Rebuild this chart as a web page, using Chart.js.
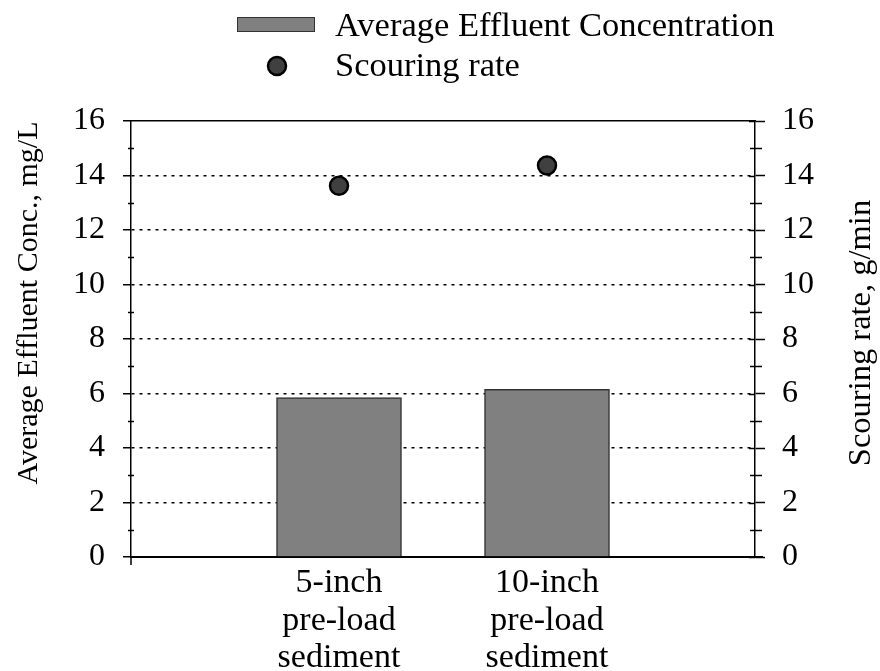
<!DOCTYPE html>
<html><head><meta charset="utf-8">
<script src="https://cdn.jsdelivr.net/npm/chart.js@4/dist/chart.umd.min.js"></script>
<style>html,body{margin:0;padding:0;background:#fff;} #wrap{width:880px;height:671px;position:relative;}</style>
</head><body><div id="wrap"><canvas id="c" width="880" height="671"></canvas></div>
<script>
const categories = ['', ['5-inch', 'pre-load', 'sediment'], ['10-inch', 'pre-load', 'sediment'], ''];
const effluentConc = [null, 5.85, 6.15, null];
const scouringRate = [null, 13.62, 14.37, null];
const seriesNames = ['Average Effluent Concentration', 'Scouring rate'];
const axisTitles = ['Average Effluent Conc., mg/L', 'Scouring rate, g/min'];
const yMin = 0, yMax = 16, yStep = 2;

const FONT = "'Liberation Serif', 'Times New Roman', serif";

const decor = {
  id: 'decor',
  afterDraw(chart) {
    const ctx = chart.ctx;
    const ca = chart.chartArea;
    const y = chart.scales.y;
    ctx.save();
    ctx.strokeStyle = '#000';
    ctx.lineWidth = 1.5;
    ctx.setLineDash([]);
    // minor ticks
    for (let v = yMin + yStep / 2; v < yMax; v += yStep) {
      const py = Math.round(y.getPixelForValue(v)) + 0.5;
      ctx.beginPath(); ctx.moveTo(ca.left - 3, py); ctx.lineTo(ca.left + 3, py); ctx.stroke();
      ctx.beginPath(); ctx.moveTo(ca.right - 5, py); ctx.lineTo(ca.right + 7, py); ctx.stroke();
    }
    // inward part of right major ticks
    for (let v = yMin; v <= yMax; v += yStep) {
      const py = Math.round(y.getPixelForValue(v)) + 0.5;
      ctx.beginPath(); ctx.moveTo(ca.right - 6, py); ctx.lineTo(ca.right, py); ctx.stroke();
    }
    // axis extensions
    ctx.beginPath(); ctx.moveTo(ca.left, ca.bottom); ctx.lineTo(ca.left, ca.bottom + 8); ctx.stroke();
    ctx.lineWidth = 2;
    ctx.beginPath(); ctx.moveTo(ca.right, ca.bottom); ctx.lineTo(ca.right + 8, ca.bottom); ctx.stroke();

    // axis titles (both read bottom-to-top)
    ctx.fillStyle = '#000';
    ctx.textAlign = 'center';
    ctx.textBaseline = 'middle';
    ctx.save();
    ctx.translate(29, 303);
    ctx.rotate(-Math.PI / 2);
    ctx.font = '30px ' + FONT;
    ctx.fillText(axisTitles[0], 0, 0);
    ctx.restore();
    ctx.save();
    ctx.translate(861, 333);
    ctx.rotate(-Math.PI / 2);
    ctx.font = '32.5px ' + FONT;
    ctx.fillText(axisTitles[1], 0, 0);
    ctx.restore();

    // legend
    const ds0 = chart.data.datasets[0], ds1 = chart.data.datasets[1];
    ctx.fillStyle = ds0.backgroundColor;
    ctx.strokeStyle = ds0.borderColor;
    ctx.lineWidth = 1;
    ctx.fillRect(237, 17, 78, 15);
    ctx.strokeRect(237.5, 17.5, 77, 14);
    ctx.beginPath();
    ctx.arc(277, 66, 9, 0, Math.PI * 2);
    ctx.fillStyle = ds1.pointBackgroundColor;
    ctx.fill();
    ctx.lineWidth = ds1.pointBorderWidth;
    ctx.strokeStyle = ds1.pointBorderColor;
    ctx.stroke();
    ctx.fillStyle = '#000';
    ctx.font = '34.5px ' + FONT;
    ctx.textBaseline = 'middle';
    ctx.textAlign = 'left';
    ctx.fillText(ds0.label, 335, 27);
    ctx.fillText(ds1.label, 335, 67);
    ctx.restore();
  }
};

new Chart(document.getElementById('c'), {
  type: 'bar',
  data: {
    labels: categories,
    datasets: [
      {
        type: 'bar',
        label: seriesNames[0],
        data: effluentConc,
        yAxisID: 'y',
        xAxisID: 'x',
        backgroundColor: '#808080',
        borderColor: '#333333',
        borderWidth: 1.5,
        barThickness: 125,
        order: 2
      },
      {
        type: 'line',
        label: seriesNames[1],
        data: scouringRate,
        yAxisID: 'y2',
        xAxisID: 'x',
        showLine: false,
        pointRadius: 9,
        pointBackgroundColor: '#404040',
        pointBorderColor: '#000000',
        pointBorderWidth: 2.5,
        order: 1
      }
    ]
  },
  options: {
    responsive: false,
    animation: false,
    events: [],
    layout: { padding: 0 },
    plugins: { legend: { display: false }, tooltip: { enabled: false } },
    scales: {
      x: {
        type: 'category',
        position: 'bottom',
        offset: false,
        grid: { display: false },
        border: { display: true, color: '#000', width: 2 },
        ticks: {
          autoSkip: false, maxRotation: 0, color: '#000', padding: 0,
          font: { family: FONT, size: 34, lineHeight: 1.09 }
        },
        afterFit(s) { s.height = 671 - 557; }
      },
      xTop: {
        type: 'category',
        position: 'top',
        offset: false,
        grid: { display: false },
        border: { display: true, color: '#000', width: 1.5 },
        ticks: { display: false },
        afterFit(s) { s.height = 121; }
      },
      y: {
        position: 'left',
        min: yMin, max: yMax,
        ticks: { stepSize: yStep, color: '#000', padding: 18, font: { family: FONT, size: 32 } },
        grid: {
          color: c => (c.tick && (c.tick.value === yMin || c.tick.value === yMax)) ? 'rgba(0,0,0,0)' : '#000',
          lineWidth: 1.5,
          tickColor: '#000',
          tickLength: 8,
          tickWidth: 1.5
        },
        border: { display: true, color: '#000', width: 1.5, dash: [3, 5] },
        afterFit(s) { s.width = 131; }
      },
      y2: {
        position: 'right',
        min: yMin, max: yMax,
        ticks: { stepSize: yStep, color: '#000', padding: 17, font: { family: FONT, size: 32 } },
        grid: { drawOnChartArea: false, color: '#000', tickColor: '#000', tickLength: 10, tickWidth: 1.5 },
        border: { display: true, color: '#000', width: 1.5 },
        afterFit(s) { s.width = 880 - 755; }
      }
    }
  },
  plugins: [decor]
});
</script>
</body></html>
